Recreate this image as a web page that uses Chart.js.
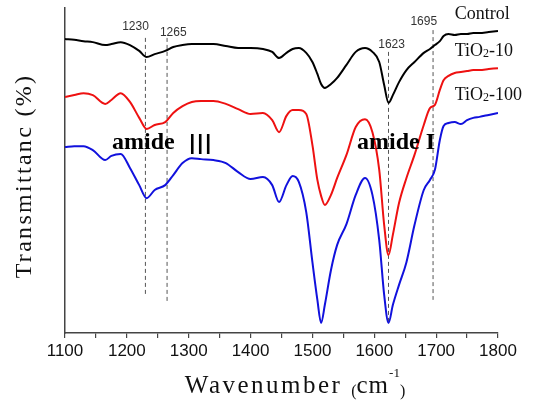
<!DOCTYPE html>
<html>
<head>
<meta charset="utf-8">
<script src="https://cdn.jsdelivr.net/npm/chart.js@4"></script>
<style>
  body { margin: 0; background: #fff; }
  #wrap { width: 533px; height: 402px; position: relative; }
</style>
</head>
<body>
<div id="wrap"><canvas id="ftir"></canvas></div>
<script>
// wavenumber grid (cm-1) shared by the three spectra
const wavenumbers = [1100,1115,1130,1145,1165,1175,1190,1205,1220,1232,1245,1262,1275,1290,1305,1320,1340,1360,1380,1400,1420,1435,1446,1458,1468,1478,1490,1500,1508,1514,1520,1530,1540,1555,1570,1585,1597,1608,1616,1623,1630,1640,1652,1665,1680,1690,1698,1706,1712,1720,1730,1740,1750,1760,1770,1785,1800];

// transmittance, arbitrary units (curves are offset)
const control = [90.5,90.2,89.8,89.5,88.6,88.9,89.5,88.6,86.8,84.9,85.8,86.8,88.0,88.6,88.9,88.9,88.9,88.3,87.7,87.7,87.4,86.5,84.6,86.2,87.4,87.7,86.2,83.4,79.7,76.6,75.4,76.6,78.5,82.5,86.5,87.7,86.5,83.4,76.3,70.8,73.2,77.2,80.9,83.4,86.2,87.4,88.6,89.8,91.4,92.0,91.7,92.0,92.0,92.3,92.3,92.6,92.9];
const tio2_10 = [72.6,73.2,73.8,73.2,70.5,71.7,73.8,71.1,66.2,62.8,64.0,64.9,67.7,69.8,71.1,71.4,71.4,70.5,68.9,67.4,67.7,65.5,61.8,66.8,68.6,68.6,67.4,57.8,47.1,42.2,39.4,42.5,47.7,54.8,63.4,65.8,61.8,50.2,33.2,24.0,30.2,40.0,47.7,54.8,64.0,69.2,70.2,74.8,77.8,79.1,80.0,80.3,80.6,80.9,80.9,81.2,81.5];
const tio2_100 = [57.2,57.5,57.5,56.3,53.2,54.5,55.1,50.8,45.5,41.5,44.0,45.5,48.6,52.3,53.8,53.5,53.2,52.3,49.5,47.4,48.0,45.5,40.3,45.5,48.3,46.5,37.2,21.8,10.2,3.1,8.6,19.4,27.1,33.5,42.5,47.7,42.5,28.6,11.7,3.1,8.6,14.8,21.8,33.2,44.0,47.1,50.2,59.4,63.7,64.6,64.9,64.3,65.5,66.2,66.5,67.1,67.7];

// dashed marker lines
const markerPos = [1230, 1265, 1623, 1695];
const markerTop = [90.8, 90.8, 86.5, 93.2];
const markerBottom = [11.7, 9.5, 2.5, 10.2];
const markerText = ['1230', '1265', '1623', '1695'];
const markerTextX = [1214, 1275, 1628, 1680];
const markerTextY = [94.2, 92.3, 88.6, 95.7];

const seriesNames = ['Control', 'TiO2-10', 'TiO2-100'];
const seriesColors = ['#000000', '#ee1111', '#1111dd'];
const seriesNameX = [1730, 1730, 1730];
const seriesNameY = [98.2, 86.8, 73.2];

const bandNames = ['amide \u2162', 'amide I'];
const bandNameX = [1176, 1572];
const bandNameY = [58.5, 58.5];

const SERIF = '"Liberation Serif", "Times New Roman", serif';
const SANS = '"Liberation Sans", Arial, sans-serif';
const CJK = '"Noto Sans CJK SC", "DejaVu Sans", sans-serif';

function toPoints(vals) {
    return wavenumbers.map((w, i) => ({x: w, y: vals[i]}));
}

const spectra = [control, tio2_10, tio2_100].map((vals, i) => ({
    label: seriesNames[i],
    data: toPoints(vals),
    borderColor: seriesColors[i],
    borderWidth: 2,
    pointRadius: 0,
    cubicInterpolationMode: 'monotone',
    fill: false
}));

const markers = markerPos.map((w, i) => ({
    label: 'marker' + markerText[i],
    data: [{x: w, y: markerTop[i]}, {x: w, y: markerBottom[i]}],
    borderColor: '#555',
    borderWidth: 1,
    borderDash: [4, 3],
    pointRadius: 0
}));

function setFont(ctx, p) {
    ctx.font = (p.bold ? 'bold ' : '') + p.size + 'px ' + p.family;
    ctx.letterSpacing = (p.ls || 0) + 'px';
}

function partsWidth(ctx, parts) {
    let w = 0;
    for (const p of parts) {
        setFont(ctx, p);
        w += ctx.measureText(p.t).width;
    }
    return w;
}

// draws text pieces, allowing sub/superscripts
function drawParts(ctx, parts, x, y) {
    let cx = x;
    for (const p of parts) {
        setFont(ctx, p);
        ctx.fillText(p.t, cx, y + (p.dy || 0));
        cx += ctx.measureText(p.t).width;
    }
    ctx.letterSpacing = '0px';
}

const annotate = {
    id: 'annotate',
    afterDatasetsDraw(chart) {
        const ctx = chart.ctx;
        const xs = chart.scales.x, ys = chart.scales.y;
        ctx.save();
        ctx.textBaseline = 'middle';

        ctx.fillStyle = '#333';
        ctx.textAlign = 'center';
        ctx.font = '12px ' + SANS;
        markerText.forEach((t, i) => {
            ctx.fillText(t, xs.getPixelForValue(markerTextX[i]), ys.getPixelForValue(markerTextY[i]));
        });

        ctx.textAlign = 'left';
        ctx.fillStyle = '#111';
        seriesNames.forEach((name, i) => {
            const px = xs.getPixelForValue(seriesNameX[i]);
            const py = ys.getPixelForValue(seriesNameY[i]);
            if (name.startsWith('TiO2')) {
                drawParts(ctx, [
                    {t: 'TiO', size: 18, family: SERIF},
                    {t: '2', size: 12, family: SERIF, dy: 3},
                    {t: name.slice(4), size: 18, family: SERIF}
                ], px, py);
            } else {
                drawParts(ctx, [{t: name, size: 18, family: SERIF}], px, py);
            }
        });

        ctx.fillStyle = '#000';
        bandNames.forEach((t, i) => {
            const [word, num] = t.split(' ');
            const numPart = num === '\u2162'
                ? {t: num, size: 27, family: CJK, dy: 1}
                : {t: num, size: 24, family: SERIF, bold: true};
            drawParts(ctx, [
                {t: word + (num === '\u2162' ? '  ' : ' '), size: 24, family: SERIF, bold: true},
                numPart
            ], xs.getPixelForValue(bandNameX[i]), ys.getPixelForValue(bandNameY[i]));
        });

        // y title
        ctx.fillStyle = '#111';
        ctx.save();
        ctx.translate(25, 176);
        ctx.rotate(-Math.PI / 2);
        const yParts = [{t: 'Transmittanc (%)', size: 24, family: SERIF, ls: 2.3}];
        drawParts(ctx, yParts, -partsWidth(ctx, yParts) / 2, 0);
        ctx.restore();

        // x title with superscript
        ctx.textBaseline = 'alphabetic';
        const parts = [
            {t: 'Wavenumber ', size: 25, family: SERIF, ls: 2.5},
            {t: '(', size: 16, family: SERIF, dy: 3},
            {t: 'cm', size: 25, family: SERIF, ls: 1},
            {t: '-1', size: 13, family: SERIF, dy: -16},
            {t: ')', size: 16, family: SERIF, dy: 3}
        ];
        drawParts(ctx, parts, 295 - partsWidth(ctx, parts) / 2, 393);
        ctx.restore();
    }
};

new Chart(document.getElementById('ftir'), {
    type: 'line',
    data: {datasets: spectra.concat(markers)},
    options: {
        responsive: true,
        maintainAspectRatio: false,
        animation: false,
        layout: {padding: {left: 65, right: 35, top: 8, bottom: 0}},
        plugins: {legend: {display: false}, tooltip: {enabled: false}},
        scales: {
            x: {
                type: 'linear',
                min: 1100,
                max: 1800,
                afterFit: s => { s.height = 69; },
                border: {display: true, color: '#444', width: 1.5},
                grid: {drawOnChartArea: false, drawTicks: true, tickLength: 5, color: '#444', lineWidth: 1.2},
                ticks: {
                    stepSize: 50,
                    autoSkip: false,
                    maxRotation: 0,
                    padding: 3,
                    color: '#111',
                    font: {family: SANS, size: 17},
                    callback: v => (v % 100 === 0 ? v : '')
                }
            },
            y: {
                min: 0,
                max: 100,
                afterFit: s => { s.width = 0; },
                border: {display: true, color: '#444', width: 1.5},
                grid: {display: false},
                ticks: {display: false}
            }
        }
    },
    plugins: [annotate]
});
</script>
</body>
</html>
